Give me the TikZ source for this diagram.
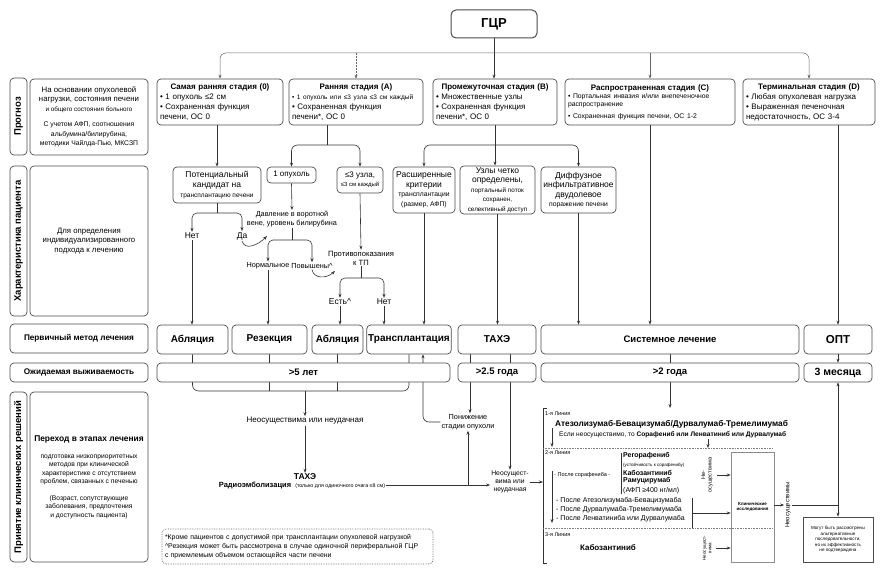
\documentclass[tikz,border=0pt]{standalone}
\usepackage{fontspec}
\setmainfont{Liberation Sans}
\usepackage{tikz}
\usetikzlibrary{arrows.meta,backgrounds}
\newcommand\fz[2]{\fontsize{#1}{#2}\selectfont}
\newcommand\stitle[1]{\makebox[\hsize][c]{\bfseries #1}}
\tikzset{
  rbox/.style={rectangle, rounded corners=4pt, draw=black!70, line width=0.7pt, fill=white, align=center, inner sep=1.5pt},
  stagebox/.style={rbox, minimum height=46, align=left, font=\fz{8}{10}},
  sidelbl/.style={rbox, rotate=90, minimum height=17, font=\fz{9.5}{10}\bfseries},
  treat/.style={rbox, minimum height=29, font=\fz{10}{11}\bfseries},
  surv/.style={rbox, minimum height=19, font=\fz{9.5}{10}\bfseries},
  tlbl/.style={inner sep=1pt, align=center, font=\fz{8.5}{10}},
  tsmall/.style={inner sep=1pt, align=center, font=\fz{7.3}{8.5}},
  linetxt/.style={inner sep=0pt, anchor=west, align=left},
  flowarr/.style={-{Stealth[length=4pt,width=3pt]}, line width=0.6pt, draw=black!80},
  flowln/.style={line width=0.6pt, draw=black!80},
  sepline/.style={line width=0.6pt, draw=black!50, densely dotted},
}
\begin{document}
\begin{tikzpicture}[x=1pt,y=-1pt]
  \useasboundingbox (0,0) rectangle (884,575);
  % stages
  \node[rbox, line width=1pt, rounded corners=5pt, minimum width=86, minimum height=28, font=\fz{13}{14}\bfseries] (hcc) at (494,24) {ГЦР};
  \node[stagebox, minimum width=126, text width=120] (st0) at (220,102) {\stitle{Самая ранняя стадия (0)}\\• 1 опухоль ≤2 см\\• Сохраненная функция\\печени, ОС 0};
  \node[stagebox, minimum width=134, text width=128] (stA) at (356,102) {\stitle{Ранняя стадия (А)}\\{\fz{6.5}{9}• 1 опухоль или ≤3 узла ≤3 см каждый}\\• Сохраненная функция\\печени*, ОС 0};
  \node[stagebox, minimum width=124, text width=118] (stB) at (495,102) {\stitle{Промежуточная стадия (В)}\\• Множественные узлы\\• Сохраненная функция\\печени*, ОС 0};
  \node[stagebox, minimum width=170, text width=164] (stC) at (650,102) {\stitle{Распространенная стадия (С)}\\{\fz{6.8}{8}• Портальная инвазия и/или внепеченочное\\распространение\\[2pt]• Сохраненная функция печени, ОС 1-2}};
  \node[stagebox, minimum width=132, text width=126] (stD) at (809,102) {\stitle{Терминальная стадия (D)}\\• Любая опухолевая нагрузка\\• Выраженная печеночная\\недостаточность, ОС 3-4};

  % left column
  \node[sidelbl, minimum width=77] (lprog) at (18.5,116.5) {Прогноз};
  \node[rbox, minimum width=118, minimum height=76, font=\fz{7.8}{9.5}] (tprog) at (89,117) {На основании опухолевой\\нагрузки, состояния печени\\{\fz{6.3}{7.5}и общего состояния больного}\\[6pt]{\fz{6.8}{8}С учетом АФП, соотношения}\\{\fz{6.8}{8}альбумина/билирубина,}\\{\fz{6.8}{8}методики Чайлда-Пью, МКСЗП}};
  \node[sidelbl, minimum width=150] (lchar) at (18.5,241) {Характеристика пациента};
  \node[rbox, minimum width=118, minimum height=150, font=\fz{7.8}{9.5}] (tchar) at (89,241) {Для определения\\индивидуализированного\\подхода к лечению};
  \node[rbox, minimum width=138, minimum height=29, font=\fz{8.2}{9}\bfseries] (lprim) at (79,338.5) {Первичный метод лечения};
  \node[rbox, minimum width=138, minimum height=19, font=\fz{8.2}{9}\bfseries] (lsurv) at (79,372.5) {Ожидаемая выживаемость};
  \node[sidelbl, minimum width=170] (ldec) at (18.5,477) {Принятие клинических решений};
  \node[rbox, minimum width=118, minimum height=170, font=\fz{6.7}{8.3}] (tdec) at (89,477) {{\fz{8.4}{10}\bfseries Переход в этапах лечения}\\[9pt]подготовка низкоприоритетных\\методов при клинической\\характеристике с отсутствием\\проблем, связанных с печенью\\[9pt](Возраст, сопутствующие\\заболевания, предпочтения\\и доступность пациента)};

  % patient characteristics
  \node[rbox, minimum width=88, minimum height=36, font=\fz{8.5}{10}] (cand) at (217,185) {Потенциальный\\кандидат на\\{\fz{6.5}{8}трансплантацию печени}};
  \node[rbox, minimum width=49, minimum height=16, font=\fz{8}{10}] (one) at (291.5,175) {1 опухоль};
  \node[rbox, minimum width=46, minimum height=26, font=\fz{8}{9}] (three) at (360,180) {≤3 узла,\\{\fz{6}{7}≤3 см каждый}};
  \node[rbox, minimum width=62, minimum height=46, font=\fz{8.5}{9.5}] (ext) at (424,190) {Расширенные\\критерии\\{\fz{6.8}{8}трансплантации}\\{\fz{6.8}{8}(размер, АФП)}};
  \node[rbox, minimum width=75, minimum height=46, font=\fz{8.5}{9.5}] (clear) at (497.5,190) {Узлы четко\\определены,\\{\fz{6.3}{7}портальный поток}\\{\fz{6.3}{7}сохранен,}\\{\fz{6.3}{7}селективный доступ}};
  \node[rbox, minimum width=75, minimum height=46, font=\fz{8.5}{9.5}] (diff) at (578.5,190) {Диффузное\\инфильтративное\\двудолевое\\{\fz{6.8}{8}поражение печени}};
  \node[tlbl] (no1) at (192,236) {Нет};
  \node[tlbl] (yes1) at (242,236) {Да};
  \node[tsmall] (press) at (292,219) {Давление в воротной\\вене, уровень билирубина};
  \node[tsmall] (norm) at (268,266) {Нормальное};
  \node[tsmall] (high) at (312,266) {Повышены\textasciicircum};
  \node[tsmall, font=\fz{7.6}{9}] (contra) at (361,258) {Противопоказания\\к ТП};
  \node[tlbl] (yes2) at (340,302) {Есть\textasciicircum};
  \node[tlbl] (no2) at (384,302) {Нет};

  % treatment and survival
  \node[treat, minimum width=71] (abl1) at (192.5,339.5) {Абляция};
  \node[treat, minimum width=75] (res) at (269.5,339.5) {Резекция};
  \node[treat, minimum width=51] (abl2) at (337.5,339.5) {Абляция};
  \node[treat, minimum width=82] (tr) at (409,339.5) {Трансплантация};
  \node[treat, minimum width=78] (tace) at (497,339.5) {ТАХЭ};
  \node[treat, minimum width=258, font=\fz{9.5}{10}\bfseries] (sys) at (670,339.5) {Системное лечение};
  \node[treat, minimum width=68, font=\fz{11.5}{12}\bfseries] (opt) at (838,339.5) {ОПТ};
  \node[surv, minimum width=293] (s5) at (303.5,372.5) {>5 лет};
  \node[surv, minimum width=78] (s25) at (497,372.5) {>2.5 года};
  \node[surv, minimum width=258] (s2) at (670,372.5) {>2 года};
  \node[surv, minimum width=68, font=\fz{10.5}{11}\bfseries] (s3m) at (838,372.5) {3 месяца};

  % clinical decisions
  \node[tlbl, font=\fz{8}{10}] (fail1) at (305,421) {Неосуществима или неудачная};
  \node[tlbl, font=\fz{8.5}{10}\bfseries] (tace2) at (305,477) {ТАХЭ};
  \node[inner sep=1pt, font=\fz{7.5}{9}] (rad) at (302,485) {\textbf{Радиоэмболизация}\ \ {\fz{5.3}{6}(только для одиночного очага ≤8 см)}};
  \node[tsmall] (down1) at (468,422) {Понижение\\стадии опухоли};
  \node[tsmall, font=\fz{6.8}{8}] (fail2) at (510,482) {Неосущест-\\вима или\\неудачная};
  \node[rbox, draw=black!60, densely dotted, minimum width=271, minimum height=35, text width=265, align=left, font=\fz{6.9}{9}] (fn) at (297.5,546.5) {*Кроме пациентов с допустимой при трансплантации опухолевой нагрузкой\\\textasciicircum Резекция может быть рассмотрена в случае одиночной периферальной ГЦР\\с приемлемым объемом остающейся части печени};

  % systemic lines
  \node[linetxt, font=\fz{5.5}{6}] (l1) at (545,414) {1-я Линия};
  \node[linetxt, font=\fz{8.3}{9}\bfseries] (atezo) at (555,424) {Атезолизумаб-Бевацизумаб/Дурвалумаб-Тремелимумаб};
  \node[linetxt, font=\fz{6.6}{8}] (ifnot) at (559,435) {Если неосуществимо, то \textbf{Сорафениб или Ленватиниб или Дурвалумаб}};
  \node[linetxt, font=\fz{5.5}{6}] (l2) at (545,453) {2-я Линия};
  \node[linetxt, font=\fz{5.5}{6}] (sor) at (554,475) {- После сорафениба -};
  \node[linetxt, font=\fz{7}{8}\bfseries] (rego) at (623,456) {Регорафениб};
  \node[linetxt, font=\fz{4.5}{5}] (resist) at (623,465) {(устойчивость к сорафенибу)};
  \node[linetxt, font=\fz{7}{8}\bfseries] (cabo1) at (623,473) {Кабозантиниб};
  \node[linetxt, font=\fz{7}{8}\bfseries] (ramu) at (623,481) {Рамуцирумаб};
  \node[linetxt, font=\fz{7}{8}] (afp) at (623,491) {(АФП ≥400 нг/мл)};
  \node[linetxt, font=\fz{7}{8}] (aft1) at (556,501) {- После Атезолизумаба-Бевацизумаба};
  \node[linetxt, font=\fz{7}{8}] (aft2) at (556,510) {- После Дурвалумаба-Тремелимумаба};
  \node[linetxt, font=\fz{7}{8}] (aft3) at (556,519) {- После Ленватиниба или Дурвалумаба};
  \node[linetxt, font=\fz{5.5}{6}] (l3) at (545,535) {3-я Линия};
  \node[inner sep=0pt, font=\fz{8}{9}\bfseries] (cabo2) at (608,548) {Кабозантиниб};
  \node[draw=black!45, line width=0.6pt, minimum width=43, minimum height=110, font=\fz{4.5}{5.5}\bfseries, align=center, inner sep=1pt] (clin) at (752.5,507) {Клинические\\исследования};
  \node[rotate=90, font=\fz{5.5}{6.5}, align=center, inner sep=1pt] (nf1) at (707,475) {Не-\\осуществима};
  \node[rotate=90, font=\fz{4.5}{5.5}, align=center, inner sep=1pt] (nf2) at (707,548) {Неосущест-\\вима};
  \node[rotate=90, font=\fz{6}{7}, inner sep=1pt] (nf3) at (788,505) {Неосуществимы};
  \node[draw=black!70, line width=0.7pt, minimum width=70, minimum height=45, font=\fz{4.6}{5.6}, align=center, inner sep=1pt] (alt) at (838,539.5) {Могут быть рассмотрены\\альтернативные\\последовательности,\\но их эффективность\\не подтверждена};

  \coordinate (bar) at (494,53);
  \coordinate (yA) at (327,145);
  \coordinate (yB) at (0,145);
  \coordinate (cj) at (217,213);
  \coordinate (pj) at (292,240);
  \coordinate (kj) at (361,278);
  \coordinate (pa) at (267,236);
  \coordinate (ka) at (335,271);
  \coordinate (fj) at (305,391);
  \coordinate (tl) at (470,0);
  \coordinate (tq) at (510,0);
  \coordinate (bt) at (543,408);
  \coordinate (bb) at (543,563);
  \coordinate (sep1) at (772,448);
  \coordinate (sep2) at (772,528);
  \coordinate (ta) at (708,439);
  \coordinate (d1a) at (552,428);
  \coordinate (d2a) at (552,471);
  \coordinate (rg) at (621,453);
  \coordinate (rb1) at (692,498);
  \coordinate (rbm) at (692,513);
  \coordinate (jn) at (838,505);

  % top
  \draw[flowarr] (hcc.south) -- (hcc.south |- stB.north);
  \draw[flowarr, draw=black!60, line width=0.5pt, rounded corners=6pt] (bar) -| (st0.north);
  \draw[flowarr, draw=black!60, line width=0.5pt, rounded corners=6pt] (bar) -| (stD.north);
  \draw[flowarr, draw=black!60, line width=0.5pt, densely dotted] (bar -| stA.north) -- (stA.north);
  \draw[flowarr, draw=black!60, line width=0.5pt] (bar -| stC.north) -- (stC.north);
  % characteristics
  \draw[flowarr] (st0.south -| cand.north) -- (cand.north);
  \draw[flowln] (stA.south -| yA) -- (yA);
  \draw[flowarr, rounded corners=6pt] (yA) -| (one.north);
  \draw[flowarr, rounded corners=6pt] (yA) -| (three.north);
  \draw[flowarr] (stB.south) -- (stB.south |- clear.north);
  \draw[flowarr, rounded corners=6pt] (stB.south |- yB) -| (ext.north);
  \draw[flowarr, rounded corners=6pt] (stB.south |- yB) -| (diff.north);
  \draw[flowln] (cand.south) -- (cj);
  \draw[flowarr, rounded corners=5pt] (cj) -| (no1.north);
  \draw[flowarr, rounded corners=5pt] (cj) -| (yes1.north);
  \draw[flowarr] (yes1.south) .. controls +(3,10) and +(-9,9) .. (pa);
  \draw[flowarr] (one.south) -- (press.north);
  \draw[flowln] (press.south) -- (pj);
  \draw[flowarr, rounded corners=5pt] (pj) -| (norm.north);
  \draw[flowarr, rounded corners=5pt] (pj) -| (high.north);
  \draw[flowarr] (high.south) .. controls +(2,9) and +(-9,8) .. (ka);
  \draw[flowarr] (three.south) -- (contra.north);
  \draw[flowln] (contra.south) -- (kj);
  \draw[flowarr, rounded corners=5pt] (kj) -| (yes2.north);
  \draw[flowarr, rounded corners=5pt] (kj) -| (no2.north);
  % to primary treatment
  \draw[flowarr] (no1.south) -- (no1.south |- abl1.north);
  \draw[flowarr] (norm.south) -- (norm.south |- res.north);
  \draw[flowarr] (yes2.south) -- (yes2.south |- abl2.north);
  \draw[flowarr] (no2.south) -- (no2.south |- tr.north);
  \draw[flowarr] (ext.south) -- (ext.south |- tr.north);
  \draw[flowarr] (clear.south) -- (clear.south |- tace.north);
  \draw[flowarr] (diff.south) -- (diff.south |- sys.north);
  \draw[flowarr] (stC.south) -- (stC.south |- sys.north);
  \draw[flowarr] (opt.north |- stD.south) -- (opt.north);
  \draw[flowarr] (opt.south) -- (s3m.north);
  % behind survival row
  \begin{pgfonlayer}{background}
    \draw[flowln, rounded corners=6pt] (abl1.south) |- (fj) -| (tr.south);
    \draw[flowln] (res.south) -- (res.south |- fj);
    \draw[flowln] (abl2.south) -- (abl2.south |- fj);
    \draw[flowarr] (tace.south -| tl) -- (tl |- down1.north);
    \draw[flowarr] (tace.south -| tq) -- (tq |- fail2.north);
    \draw[flowarr] (sys.south) -- (sys.south |- bt);
    \draw[flowarr, rounded corners=6pt] (down1.west) -| ([xshift=14]tr.south);
  \end{pgfonlayer}
  % decisions
  \draw[flowarr] (fj) -- (fail1.north);
  \draw[flowarr] (fail1.south) -- (tace2.north);
  \draw[flowarr] (rad.east) -- (rad.east -| fail2.west);
  \draw[flowarr] (down1.south |- rad.east) -- (down1.south);
  \draw[flowarr] (fail2.east) -- (fail2.east -| bt);
  \draw[flowln] ([xshift=4]bt) -- (bt) -- (bb) -- ([xshift=4]bb);
  \draw[sepline] (bt |- sep1) -- (sep1);
  \draw[sepline] (bt |- sep2) -- (sep2);
  \draw[flowarr] (d1a) -- ++(0,19);
  \draw[flowarr] (d2a) -- ++(0,52);
  \draw[flowarr] (ta) -- ++(0,9);
  \draw[flowln] (rg) -- ++(0,41);
  \draw[flowln] (rb1) -- ++(0,30);
  \draw[flowarr] (rbm) -- (clin.west |- rbm);
  \draw[flowarr] ([xshift=3]nf1.south) -- (clin.west |- nf1.south);
  \draw[flowarr] ([xshift=3]nf2.south) -- (clin.west |- nf2.south);
  \draw[flowarr] (clin.east |- nf3.north) -- (nf3.north);
  \draw[flowln] (nf3.south) -- (jn);
  \draw[flowarr] (jn) -- (s3m.south);
  \draw[flowarr] (jn) -- (alt.north);
\end{tikzpicture}
\end{document}
